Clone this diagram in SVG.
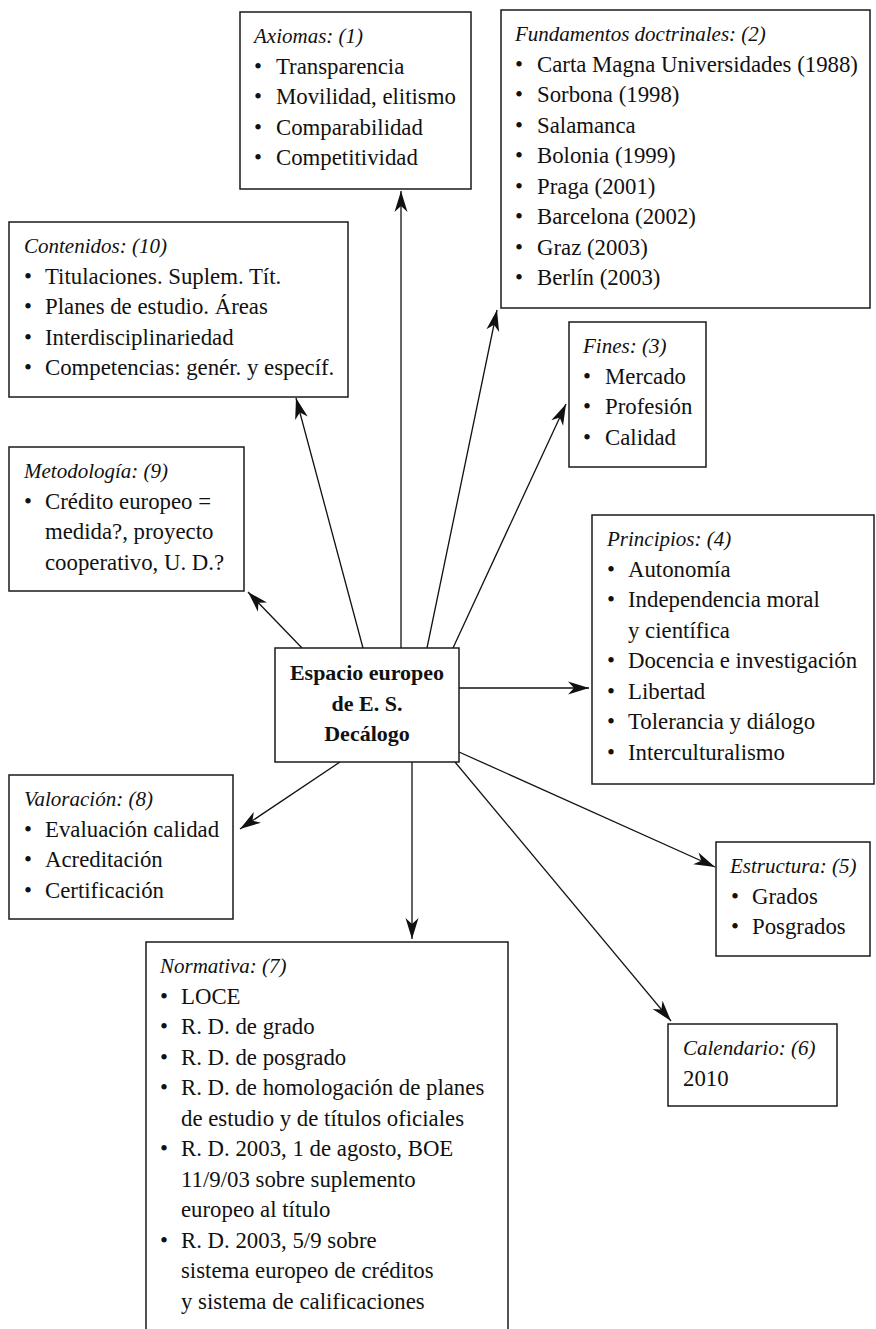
<svg xmlns="http://www.w3.org/2000/svg" width="876" height="1329" viewBox="0 0 876 1329">
<style>
  .box { fill: #fff; stroke: #1a1a1a; stroke-width: 1.5; }
  .t { font-family: "Liberation Serif", "Times New Roman", serif; font-size: 22.8px; fill: #111; }
  .h { font-family: "Liberation Serif", "Times New Roman", serif; font-size: 21px; font-style: italic; fill: #111; }
  .c { font-family: "Liberation Serif", "Times New Roman", serif; font-size: 22px; font-weight: bold; fill: #111; text-anchor: middle; }
  .ln { stroke: #111; stroke-width: 1.3; fill: none; marker-end: url(#ah); }
</style>
<defs>
  <marker id="ah" viewBox="-21 -7 22 14" refX="0" refY="0" markerWidth="22" markerHeight="14" markerUnits="userSpaceOnUse" orient="auto">
    <path d="M0,0 L-21,-6.5 L-15,0 L-21,6.5 z" fill="#111"/>
  </marker>
</defs>

<g id="connectors">
  <line class="ln" x1="401" y1="648" x2="401" y2="191"/>
  <line class="ln" x1="427" y1="648" x2="497" y2="310"/>
  <line class="ln" x1="453" y1="648" x2="566" y2="404"/>
  <line class="ln" x1="459" y1="688" x2="589" y2="688"/>
  <line class="ln" x1="459" y1="752" x2="715" y2="867"/>
  <line class="ln" x1="455" y1="762" x2="671" y2="1021"/>
  <line class="ln" x1="412" y1="762" x2="412" y2="939"/>
  <line class="ln" x1="340" y1="762" x2="240" y2="829"/>
  <line class="ln" x1="302" y1="648" x2="248" y2="592"/>
  <line class="ln" x1="363" y1="648" x2="296" y2="398"/>
</g>

<g id="center">
  <rect class="box" x="275" y="648" width="184" height="114"/>
  <text class="c" x="367" y="680">Espacio europeo</text>
  <text class="c" x="367" y="711">de E. S.</text>
  <text class="c" x="367" y="741">Decálogo</text>
</g>

<g id="axiomas">
  <rect class="box" x="240" y="12" width="231" height="177"/>
  <text class="h" x="254" y="43">Axiomas: (1)</text>
  <text class="t" x="254" y="73.5">•</text><text class="t" x="276" y="73.5">Transparencia</text>
  <text class="t" x="254" y="104">•</text><text class="t" x="276" y="104">Movilidad, elitismo</text>
  <text class="t" x="254" y="134.5">•</text><text class="t" x="276" y="134.5">Comparabilidad</text>
  <text class="t" x="254" y="165">•</text><text class="t" x="276" y="165">Competitividad</text>
</g>

<g id="fundamentos">
  <rect class="box" x="501" y="10" width="369" height="298"/>
  <text class="h" x="515" y="41">Fundamentos doctrinales: (2)</text>
  <text class="t" x="515" y="71.5">•</text><text class="t" x="537" y="71.5">Carta Magna Universidades (1988)</text>
  <text class="t" x="515" y="102">•</text><text class="t" x="537" y="102">Sorbona (1998)</text>
  <text class="t" x="515" y="132.5">•</text><text class="t" x="537" y="132.5">Salamanca</text>
  <text class="t" x="515" y="163">•</text><text class="t" x="537" y="163">Bolonia (1999)</text>
  <text class="t" x="515" y="193.5">•</text><text class="t" x="537" y="193.5">Praga (2001)</text>
  <text class="t" x="515" y="224">•</text><text class="t" x="537" y="224">Barcelona (2002)</text>
  <text class="t" x="515" y="254.5">•</text><text class="t" x="537" y="254.5">Graz (2003)</text>
  <text class="t" x="515" y="285">•</text><text class="t" x="537" y="285">Berlín (2003)</text>
</g>

<g id="fines">
  <rect class="box" x="569" y="322" width="137" height="145"/>
  <text class="h" x="583" y="353">Fines: (3)</text>
  <text class="t" x="583" y="383.5">•</text><text class="t" x="605" y="383.5">Mercado</text>
  <text class="t" x="583" y="414">•</text><text class="t" x="605" y="414">Profesión</text>
  <text class="t" x="583" y="444.5">•</text><text class="t" x="605" y="444.5">Calidad</text>
</g>

<g id="principios">
  <rect class="box" x="592" y="515" width="282" height="269"/>
  <text class="h" x="607" y="546">Principios: (4)</text>
  <text class="t" x="607" y="576.5">•</text><text class="t" x="628" y="576.5">Autonomía</text>
  <text class="t" x="607" y="607">•</text><text class="t" x="628" y="607">Independencia moral</text>
  <text class="t" x="628" y="637.5">y científica</text>
  <text class="t" x="607" y="668">•</text><text class="t" x="628" y="668">Docencia e investigación</text>
  <text class="t" x="607" y="698.5">•</text><text class="t" x="628" y="698.5">Libertad</text>
  <text class="t" x="607" y="729">•</text><text class="t" x="628" y="729">Tolerancia y diálogo</text>
  <text class="t" x="607" y="759.5">•</text><text class="t" x="628" y="759.5">Interculturalismo</text>
</g>

<g id="estructura">
  <rect class="box" x="716" y="842" width="154" height="114"/>
  <text class="h" x="730" y="873">Estructura: (5)</text>
  <text class="t" x="731" y="903.5">•</text><text class="t" x="752" y="903.5">Grados</text>
  <text class="t" x="731" y="934">•</text><text class="t" x="752" y="934">Posgrados</text>
</g>

<g id="calendario">
  <rect class="box" x="668" y="1024" width="169" height="82"/>
  <text class="h" x="683" y="1055">Calendario: (6)</text>
  <text class="t" x="683" y="1085.5">2010</text>
</g>

<g id="normativa">
  <rect class="box" x="146" y="942" width="362" height="420"/>
  <text class="h" x="160" y="973">Normativa: (7)</text>
  <text class="t" x="160" y="1003.5">•</text><text class="t" x="181" y="1003.5">LOCE</text>
  <text class="t" x="160" y="1034">•</text><text class="t" x="181" y="1034">R. D. de grado</text>
  <text class="t" x="160" y="1064.5">•</text><text class="t" x="181" y="1064.5">R. D. de posgrado</text>
  <text class="t" x="160" y="1095">•</text><text class="t" x="181" y="1095">R. D. de homologación de planes</text>
  <text class="t" x="181" y="1125.5">de estudio y de títulos oficiales</text>
  <text class="t" x="160" y="1156">•</text><text class="t" x="181" y="1156">R. D. 2003, 1 de agosto, BOE</text>
  <text class="t" x="181" y="1186.5">11/9/03 sobre suplemento</text>
  <text class="t" x="181" y="1217">europeo al título</text>
  <text class="t" x="160" y="1247.5">•</text><text class="t" x="181" y="1247.5">R. D. 2003, 5/9 sobre</text>
  <text class="t" x="181" y="1278">sistema europeo de créditos</text>
  <text class="t" x="181" y="1308.5">y sistema de calificaciones</text>
</g>

<g id="valoracion">
  <rect class="box" x="9" y="775" width="224" height="144"/>
  <text class="h" x="24" y="806">Valoración: (8)</text>
  <text class="t" x="24" y="836.5">•</text><text class="t" x="45" y="836.5">Evaluación calidad</text>
  <text class="t" x="24" y="867">•</text><text class="t" x="45" y="867">Acreditación</text>
  <text class="t" x="24" y="897.5">•</text><text class="t" x="45" y="897.5">Certificación</text>
</g>

<g id="metodologia">
  <rect class="box" x="9" y="447" width="235" height="144"/>
  <text class="h" x="24" y="478">Metodología: (9)</text>
  <text class="t" x="24" y="508.5">•</text><text class="t" x="45" y="508.5">Crédito europeo =</text>
  <text class="t" x="45" y="539">medida?, proyecto</text>
  <text class="t" x="45" y="569.5">cooperativo, U. D.?</text>
</g>

<g id="contenidos">
  <rect class="box" x="9" y="222" width="339" height="175"/>
  <text class="h" x="24" y="253">Contenidos: (10)</text>
  <text class="t" x="24" y="283.5">•</text><text class="t" x="45" y="283.5">Titulaciones. Suplem. Tít.</text>
  <text class="t" x="24" y="314">•</text><text class="t" x="45" y="314">Planes de estudio. Áreas</text>
  <text class="t" x="24" y="344.5">•</text><text class="t" x="45" y="344.5">Interdisciplinariedad</text>
  <text class="t" x="24" y="375">•</text><text class="t" x="45" y="375">Competencias: genér. y específ.</text>
</g>
</svg>
